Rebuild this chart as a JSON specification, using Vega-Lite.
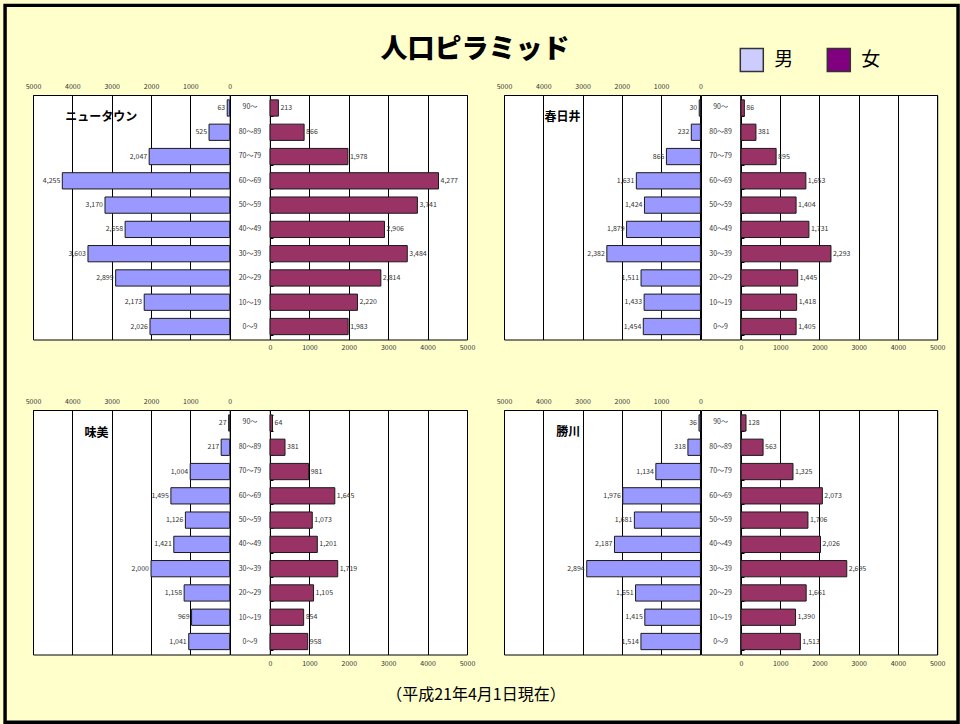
{
"$schema": "https://vega.github.io/schema/vega-lite/v6.json",
"background": "#FFFFCC",
"padding": {"left": 3, "top": 3, "right": 0, "bottom": 0},
"config": {"font": "Noto Sans CJK JP", "view": {"stroke": "#000", "strokeWidth": 1, "fill": "#FFFFFF"},
 "axis": {"labelOverlap": false, "labelFlush": false, "labelFontSize": 7, "labelColor": "#333"}},
"datasets": {"pop": [
{"a":"ニュータウン","age":"90～","sex":"男","n":63},{"a":"ニュータウン","age":"80～89","sex":"男","n":525},{"a":"ニュータウン","age":"70～79","sex":"男","n":2047},{"a":"ニュータウン","age":"60～69","sex":"男","n":4255},{"a":"ニュータウン","age":"50～59","sex":"男","n":3170},{"a":"ニュータウン","age":"40～49","sex":"男","n":2658},{"a":"ニュータウン","age":"30～39","sex":"男","n":3603},{"a":"ニュータウン","age":"20～29","sex":"男","n":2899},{"a":"ニュータウン","age":"10～19","sex":"男","n":2173},{"a":"ニュータウン","age":"0～9","sex":"男","n":2026},
{"a":"ニュータウン","age":"90～","sex":"女","n":213},{"a":"ニュータウン","age":"80～89","sex":"女","n":866},{"a":"ニュータウン","age":"70～79","sex":"女","n":1978},{"a":"ニュータウン","age":"60～69","sex":"女","n":4277},{"a":"ニュータウン","age":"50～59","sex":"女","n":3741},{"a":"ニュータウン","age":"40～49","sex":"女","n":2906},{"a":"ニュータウン","age":"30～39","sex":"女","n":3484},{"a":"ニュータウン","age":"20～29","sex":"女","n":2814},{"a":"ニュータウン","age":"10～19","sex":"女","n":2220},{"a":"ニュータウン","age":"0～9","sex":"女","n":1983},
{"a":"春日井","age":"90～","sex":"男","n":30},{"a":"春日井","age":"80～89","sex":"男","n":232},{"a":"春日井","age":"70～79","sex":"男","n":865},{"a":"春日井","age":"60～69","sex":"男","n":1631},{"a":"春日井","age":"50～59","sex":"男","n":1424},{"a":"春日井","age":"40～49","sex":"男","n":1879},{"a":"春日井","age":"30～39","sex":"男","n":2382},{"a":"春日井","age":"20～29","sex":"男","n":1511},{"a":"春日井","age":"10～19","sex":"男","n":1433},{"a":"春日井","age":"0～9","sex":"男","n":1454},
{"a":"春日井","age":"90～","sex":"女","n":86},{"a":"春日井","age":"80～89","sex":"女","n":381},{"a":"春日井","age":"70～79","sex":"女","n":895},{"a":"春日井","age":"60～69","sex":"女","n":1653},{"a":"春日井","age":"50～59","sex":"女","n":1404},{"a":"春日井","age":"40～49","sex":"女","n":1731},{"a":"春日井","age":"30～39","sex":"女","n":2293},{"a":"春日井","age":"20～29","sex":"女","n":1445},{"a":"春日井","age":"10～19","sex":"女","n":1418},{"a":"春日井","age":"0～9","sex":"女","n":1405},
{"a":"味美","age":"90～","sex":"男","n":27},{"a":"味美","age":"80～89","sex":"男","n":217},{"a":"味美","age":"70～79","sex":"男","n":1004},{"a":"味美","age":"60～69","sex":"男","n":1495},{"a":"味美","age":"50～59","sex":"男","n":1126},{"a":"味美","age":"40～49","sex":"男","n":1421},{"a":"味美","age":"30～39","sex":"男","n":2000},{"a":"味美","age":"20～29","sex":"男","n":1158},{"a":"味美","age":"10～19","sex":"男","n":969},{"a":"味美","age":"0～9","sex":"男","n":1041},
{"a":"味美","age":"90～","sex":"女","n":64},{"a":"味美","age":"80～89","sex":"女","n":381},{"a":"味美","age":"70～79","sex":"女","n":981},{"a":"味美","age":"60～69","sex":"女","n":1645},{"a":"味美","age":"50～59","sex":"女","n":1073},{"a":"味美","age":"40～49","sex":"女","n":1201},{"a":"味美","age":"30～39","sex":"女","n":1719},{"a":"味美","age":"20～29","sex":"女","n":1105},{"a":"味美","age":"10～19","sex":"女","n":854},{"a":"味美","age":"0～9","sex":"女","n":958},
{"a":"勝川","age":"90～","sex":"男","n":36},{"a":"勝川","age":"80～89","sex":"男","n":318},{"a":"勝川","age":"70～79","sex":"男","n":1134},{"a":"勝川","age":"60～69","sex":"男","n":1976},{"a":"勝川","age":"50～59","sex":"男","n":1681},{"a":"勝川","age":"40～49","sex":"男","n":2187},{"a":"勝川","age":"30～39","sex":"男","n":2894},{"a":"勝川","age":"20～29","sex":"男","n":1651},{"a":"勝川","age":"10～19","sex":"男","n":1415},{"a":"勝川","age":"0～9","sex":"男","n":1514},
{"a":"勝川","age":"90～","sex":"女","n":128},{"a":"勝川","age":"80～89","sex":"女","n":563},{"a":"勝川","age":"70～79","sex":"女","n":1325},{"a":"勝川","age":"60～69","sex":"女","n":2073},{"a":"勝川","age":"50～59","sex":"女","n":1706},{"a":"勝川","age":"40～49","sex":"女","n":2026},{"a":"勝川","age":"30～39","sex":"女","n":2695},{"a":"勝川","age":"20～29","sex":"女","n":1661},{"a":"勝川","age":"10～19","sex":"女","n":1390},{"a":"勝川","age":"0～9","sex":"女","n":1513}
]},
"columns": 8,
"bounds": "flush",
"align": {"row": "all", "column": "none"},
"spacing": {"row": 70, "column": 0},
"concat": [
{"width": 3.8, "height": 244.5, "data": {"values": []}, "mark": {"type": "point", "color": "#000", "filled": false, "strokeWidth": 3.5, "opacity": 1},
 "encoding": {"shape": {"field": "k", "type": "nominal", "scale": {"domain": ["枠"], "range": ["M-1,-0.75236H1V0.75236H-1Z"]},
   "legend": {"orient": "none", "legendX": -25.95, "legendY": -91.5, "clipHeight": 720.5, "title": null, "symbolSize": 908209, "symbolStrokeColor": "#000", "symbolStrokeWidth": 3.5, "symbolFillColor": "transparent", "symbolOpacity": 1, "labelExpr": "''", "labelFontSize": 1, "labelOffset": 0, "padding": 0}}},
 "view": {"stroke": null, "fill": "transparent"}},
{"width": 196.7, "height": 244.5, "data": {"name": "pop"}, "transform": [{"filter": "datum.a === 'ニュータウン' && datum.sex === '男'"}],
 "encoding": {"y": {"field": "age", "type": "nominal", "sort": ["90～","80～89","70～79","60～69","50～59","40～49","30～39","20～29","10～19","0～9"], "scale": {"paddingInner": 0.33, "paddingOuter": 0.2}, "axis": null}},
 "layer": [
  {"mark": {"type": "bar", "fill": "#9999FF", "stroke": "#1a1a1a", "strokeWidth": 1},
   "encoding": {"x": {"field": "n", "type": "quantitative", "scale": {"domain": [0,5000], "reverse": true, "nice": false}, "axis": {"orient": "top", "values": [0,1000,2000,3000,4000,5000], "tickCount": 12, "format": "d", "title": null, "ticks": false, "tickSize": 0, "labelPadding": 6, "domain": false, "grid": true, "gridColor": "#000", "gridOpacity": 1, "gridWidth": 1}}}},
  {"mark": {"type": "text", "align": "right", "baseline": "middle", "dx": -2, "fontSize": 7, "fill": "#333"},
   "encoding": {"x": {"field": "n", "type": "quantitative"}, "text": {"field": "n", "type": "quantitative", "format": ","}}},
  {"transform": [{"filter": "datum.age === '90～'"}],
   "mark": {"type": "text", "align": "left", "baseline": "middle", "dy": 9, "fontSize": 12, "fontWeight": "bold", "fill": "#000"},
   "encoding": {"x": {"datum": 4182}, "text": {"field": "a"}}}
 ]},
{"width": 39.8, "height": 244.5, "data": {"name": "pop"}, "transform": [{"filter": "datum.a === 'ニュータウン' && datum.sex === '男'"}],
 "mark": {"type": "text", "fontSize": 7, "fill": "#333", "baseline": "middle"},
 "encoding": {"y": {"field": "age", "type": "nominal", "sort": ["90～","80～89","70～79","60～69","50～59","40～49","30～39","20～29","10～19","0～9"], "scale": {"paddingInner": 0.33, "paddingOuter": 0.2}, "axis": null}, "text": {"field": "age"}}},
{"width": 197, "height": 244.5, "data": {"name": "pop"}, "transform": [{"filter": "datum.a === 'ニュータウン' && datum.sex === '女'"}],
 "encoding": {"y": {"field": "age", "type": "nominal", "sort": ["90～","80～89","70～79","60～69","50～59","40～49","30～39","20～29","10～19","0～9"], "scale": {"paddingInner": 0.33, "paddingOuter": 0.2}, "axis": {"orient": "left", "labels": false, "ticks": true, "tickBand": "extent", "tickSize": -3, "tickColor": "#000", "domain": false, "title": null}}},
 "layer": [
  {"mark": {"type": "bar", "fill": "#993366", "stroke": "#1a1a1a", "strokeWidth": 1},
   "encoding": {"x": {"field": "n", "type": "quantitative", "scale": {"domain": [0,5000], "nice": false}, "axis": {"orient": "bottom", "values": [0,1000,2000,3000,4000,5000], "tickCount": 12, "format": "d", "title": null, "ticks": false, "tickSize": 0, "labelPadding": 3.5, "domain": false, "grid": true, "gridColor": "#000", "gridOpacity": 1, "gridWidth": 1}}}},
  {"mark": {"type": "text", "align": "left", "baseline": "middle", "dx": 2, "fontSize": 7, "fill": "#333"},
   "encoding": {"x": {"field": "n", "type": "quantitative"}, "text": {"field": "n", "type": "quantitative", "format": ","}}}
 ]},
{"width": 36.4, "height": 244.5, "data": {"values": []}, "mark": "point", "view": {"stroke": null, "fill": "transparent"},
 "title": {"text": "人口ピラミッド", "orient": "top", "anchor": "middle", "frame": "group", "fontSize": 27, "fontWeight": 900, "baseline": "middle", "offset": 18, "dx": -10.2, "color": "#000", "font": "Noto Sans CJK JP"}},
{"width": 196.4, "height": 244.5, "data": {"name": "pop"}, "transform": [{"filter": "datum.a === '春日井' && datum.sex === '男'"}],
 "encoding": {"y": {"field": "age", "type": "nominal", "sort": ["90～","80～89","70～79","60～69","50～59","40～49","30～39","20～29","10～19","0～9"], "scale": {"paddingInner": 0.33, "paddingOuter": 0.2}, "axis": null}},
 "layer": [
  {"mark": {"type": "bar", "fill": "#9999FF", "stroke": "#1a1a1a", "strokeWidth": 1},
   "encoding": {"x": {"field": "n", "type": "quantitative", "scale": {"domain": [0,5000], "reverse": true, "nice": false}, "axis": {"orient": "top", "values": [0,1000,2000,3000,4000,5000], "tickCount": 12, "format": "d", "title": null, "ticks": false, "tickSize": 0, "labelPadding": 6, "domain": false, "grid": true, "gridColor": "#000", "gridOpacity": 1, "gridWidth": 1}}}},
  {"mark": {"type": "text", "align": "right", "baseline": "middle", "dx": -2, "fontSize": 7, "fill": "#333"},
   "encoding": {"x": {"field": "n", "type": "quantitative"}, "text": {"field": "n", "type": "quantitative", "format": ","}}},
  {"transform": [{"filter": "datum.age === '90～'"}],
   "mark": {"type": "text", "align": "left", "baseline": "middle", "dy": 9, "fontSize": 12, "fontWeight": "bold", "fill": "#000"},
   "encoding": {"x": {"datum": 3966}, "text": {"field": "a"}}}
 ]},
{"width": 39.2, "height": 244.5, "data": {"name": "pop"}, "transform": [{"filter": "datum.a === '春日井' && datum.sex === '男'"}],
 "mark": {"type": "text", "fontSize": 7, "fill": "#333", "baseline": "middle"},
 "encoding": {"y": {"field": "age", "type": "nominal", "sort": ["90～","80～89","70～79","60～69","50～59","40～49","30～39","20～29","10～19","0～9"], "scale": {"paddingInner": 0.33, "paddingOuter": 0.2}, "axis": null}, "text": {"field": "age"}}},
{"width": 196.2, "height": 244.5, "data": {"name": "pop"}, "transform": [{"filter": "datum.a === '春日井' && datum.sex === '女'"}],
 "encoding": {"y": {"field": "age", "type": "nominal", "sort": ["90～","80～89","70～79","60～69","50～59","40～49","30～39","20～29","10～19","0～9"], "scale": {"paddingInner": 0.33, "paddingOuter": 0.2}, "axis": {"orient": "left", "labels": false, "ticks": true, "tickBand": "extent", "tickSize": -3, "tickColor": "#000", "domain": false, "title": null}}},
 "layer": [
  {"mark": {"type": "bar", "fill": "#993366", "stroke": "#1a1a1a", "strokeWidth": 1},
   "encoding": {"x": {"field": "n", "type": "quantitative", "scale": {"domain": [0,5000], "nice": false}, "axis": {"orient": "bottom", "values": [0,1000,2000,3000,4000,5000], "tickCount": 12, "format": "d", "title": null, "ticks": false, "tickSize": 0, "labelPadding": 3.5, "domain": false, "grid": true, "gridColor": "#000", "gridOpacity": 1, "gridWidth": 1}}}},
  {"mark": {"type": "text", "align": "left", "baseline": "middle", "dx": 2, "fontSize": 7, "fill": "#333"},
   "encoding": {"x": {"field": "n", "type": "quantitative"}, "text": {"field": "n", "type": "quantitative", "format": ","}}}
 ]},
{"width": 3.8, "height": 244.5, "data": {"name": "pop"}, "mark": {"type": "square", "opacity": 0, "stroke": "#333", "strokeWidth": 1.5},
 "encoding": {"color": {"field": "sex", "type": "nominal", "scale": {"domain": ["男","女"], "range": ["#CCCCFF","#800080"]},
   "legend": {"orient": "none", "legendX": 710.3, "legendY": -47.5, "direction": "horizontal", "title": null, "symbolType": "square", "symbolSize": 529, "symbolStrokeColor": "#333", "symbolStrokeWidth": 1.5, "symbolOpacity": 1, "labelFontSize": 19, "labelColor": "#000", "labelOffset": 10, "columnPadding": 30, "padding": 0}}},
 "view": {"stroke": null, "fill": "transparent"}},
{"width": 196.7, "height": 244.5, "data": {"name": "pop"}, "transform": [{"filter": "datum.a === '味美' && datum.sex === '男'"}],
 "encoding": {"y": {"field": "age", "type": "nominal", "sort": ["90～","80～89","70～79","60～69","50～59","40～49","30～39","20～29","10～19","0～9"], "scale": {"paddingInner": 0.33, "paddingOuter": 0.2}, "axis": null}},
 "layer": [
  {"mark": {"type": "bar", "fill": "#9999FF", "stroke": "#1a1a1a", "strokeWidth": 1},
   "encoding": {"x": {"field": "n", "type": "quantitative", "scale": {"domain": [0,5000], "reverse": true, "nice": false}, "axis": {"orient": "top", "values": [0,1000,2000,3000,4000,5000], "tickCount": 12, "format": "d", "title": null, "ticks": false, "tickSize": 0, "labelPadding": 6, "domain": false, "grid": true, "gridColor": "#000", "gridOpacity": 1, "gridWidth": 1}}}},
  {"mark": {"type": "text", "align": "right", "baseline": "middle", "dx": -2, "fontSize": 7, "fill": "#333"},
   "encoding": {"x": {"field": "n", "type": "quantitative"}, "text": {"field": "n", "type": "quantitative", "format": ","}}},
  {"transform": [{"filter": "datum.age === '90～'"}],
   "mark": {"type": "text", "align": "left", "baseline": "middle", "dy": 10, "fontSize": 12, "fontWeight": "bold", "fill": "#000"},
   "encoding": {"x": {"datum": 3691}, "text": {"field": "a"}}}
 ]},
{"width": 39.8, "height": 244.5, "data": {"name": "pop"}, "transform": [{"filter": "datum.a === '味美' && datum.sex === '男'"}],
 "mark": {"type": "text", "fontSize": 7, "fill": "#333", "baseline": "middle"},
 "encoding": {"y": {"field": "age", "type": "nominal", "sort": ["90～","80～89","70～79","60～69","50～59","40～49","30～39","20～29","10～19","0～9"], "scale": {"paddingInner": 0.33, "paddingOuter": 0.2}, "axis": null}, "text": {"field": "age"}}},
{"width": 197, "height": 244.5, "data": {"name": "pop"}, "transform": [{"filter": "datum.a === '味美' && datum.sex === '女'"}],
 "encoding": {"y": {"field": "age", "type": "nominal", "sort": ["90～","80～89","70～79","60～69","50～59","40～49","30～39","20～29","10～19","0～9"], "scale": {"paddingInner": 0.33, "paddingOuter": 0.2}, "axis": {"orient": "left", "labels": false, "ticks": true, "tickBand": "extent", "tickSize": -3, "tickColor": "#000", "domain": false, "title": null}}},
 "layer": [
  {"mark": {"type": "bar", "fill": "#993366", "stroke": "#1a1a1a", "strokeWidth": 1},
   "encoding": {"x": {"field": "n", "type": "quantitative", "scale": {"domain": [0,5000], "nice": false}, "axis": {"orient": "bottom", "values": [0,1000,2000,3000,4000,5000], "tickCount": 12, "format": "d", "title": null, "ticks": false, "tickSize": 0, "labelPadding": 4.5, "domain": false, "grid": true, "gridColor": "#000", "gridOpacity": 1, "gridWidth": 1}}}},
  {"mark": {"type": "text", "align": "left", "baseline": "middle", "dx": 2, "fontSize": 7, "fill": "#333"},
   "encoding": {"x": {"field": "n", "type": "quantitative"}, "text": {"field": "n", "type": "quantitative", "format": ","}}}
 ]},
{"width": 36.4, "height": 244.5, "data": {"values": []}, "mark": "point", "view": {"stroke": null, "fill": "transparent"},
 "title": {"text": "（平成21年4月1日現在）", "orient": "bottom", "anchor": "middle", "frame": "group", "fontSize": 16, "fontWeight": "normal", "baseline": "middle", "offset": 40, "dx": -9.2, "color": "#000", "font": "Noto Sans CJK JP"}},
{"width": 196.4, "height": 244.5, "data": {"name": "pop"}, "transform": [{"filter": "datum.a === '勝川' && datum.sex === '男'"}],
 "encoding": {"y": {"field": "age", "type": "nominal", "sort": ["90～","80～89","70～79","60～69","50～59","40～49","30～39","20～29","10～19","0～9"], "scale": {"paddingInner": 0.33, "paddingOuter": 0.2}, "axis": null}},
 "layer": [
  {"mark": {"type": "bar", "fill": "#9999FF", "stroke": "#1a1a1a", "strokeWidth": 1},
   "encoding": {"x": {"field": "n", "type": "quantitative", "scale": {"domain": [0,5000], "reverse": true, "nice": false}, "axis": {"orient": "top", "values": [0,1000,2000,3000,4000,5000], "tickCount": 12, "format": "d", "title": null, "ticks": false, "tickSize": 0, "labelPadding": 6, "domain": false, "grid": true, "gridColor": "#000", "gridOpacity": 1, "gridWidth": 1}}}},
  {"mark": {"type": "text", "align": "right", "baseline": "middle", "dx": -2, "fontSize": 7, "fill": "#333"},
   "encoding": {"x": {"field": "n", "type": "quantitative"}, "text": {"field": "n", "type": "quantitative", "format": ","}}},
  {"transform": [{"filter": "datum.age === '90～'"}],
   "mark": {"type": "text", "align": "left", "baseline": "middle", "dy": 9, "fontSize": 12, "fontWeight": "bold", "fill": "#000"},
   "encoding": {"x": {"datum": 3669}, "text": {"field": "a"}}}
 ]},
{"width": 39.2, "height": 244.5, "data": {"name": "pop"}, "transform": [{"filter": "datum.a === '勝川' && datum.sex === '男'"}],
 "mark": {"type": "text", "fontSize": 7, "fill": "#333", "baseline": "middle"},
 "encoding": {"y": {"field": "age", "type": "nominal", "sort": ["90～","80～89","70～79","60～69","50～59","40～49","30～39","20～29","10～19","0～9"], "scale": {"paddingInner": 0.33, "paddingOuter": 0.2}, "axis": null}, "text": {"field": "age"}}},
{"width": 196.2, "height": 244.5, "data": {"name": "pop"}, "transform": [{"filter": "datum.a === '勝川' && datum.sex === '女'"}],
 "encoding": {"y": {"field": "age", "type": "nominal", "sort": ["90～","80～89","70～79","60～69","50～59","40～49","30～39","20～29","10～19","0～9"], "scale": {"paddingInner": 0.33, "paddingOuter": 0.2}, "axis": {"orient": "left", "labels": false, "ticks": true, "tickBand": "extent", "tickSize": -3, "tickColor": "#000", "domain": false, "title": null}}},
 "layer": [
  {"mark": {"type": "bar", "fill": "#993366", "stroke": "#1a1a1a", "strokeWidth": 1},
   "encoding": {"x": {"field": "n", "type": "quantitative", "scale": {"domain": [0,5000], "nice": false}, "axis": {"orient": "bottom", "values": [0,1000,2000,3000,4000,5000], "tickCount": 12, "format": "d", "title": null, "ticks": false, "tickSize": 0, "labelPadding": 4.5, "domain": false, "grid": true, "gridColor": "#000", "gridOpacity": 1, "gridWidth": 1}}}},
  {"mark": {"type": "text", "align": "left", "baseline": "middle", "dx": 2, "fontSize": 7, "fill": "#333"},
   "encoding": {"x": {"field": "n", "type": "quantitative"}, "text": {"field": "n", "type": "quantitative", "format": ","}}}
 ]}
]
}
